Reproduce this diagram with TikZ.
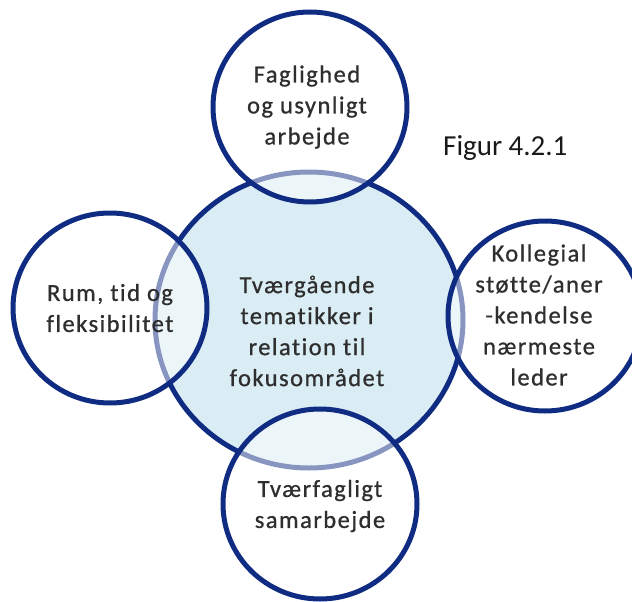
\documentclass[tikz,border=0pt]{standalone}
\usepackage{fontspec}
\setmainfont{Carlito}
\usepackage{tikz}
\usetikzlibrary{positioning,shapes.geometric}
\definecolor{navy}{HTML}{0F2C82}
\definecolor{paleblue}{HTML}{DAEDF4}
\definecolor{inkgray}{HTML}{2E2E2E}

\begin{document}
\begin{tikzpicture}[
        x=1pt, y=-1pt,
        ring/.style={ellipse, draw=navy, line width=5pt, inner sep=0pt, minimum width=194pt, minimum height=190pt},
        hub/.style={ring, fill=paleblue, minimum width=308pt, minimum height=296pt},
        theme/.style={ring, fill=white, fill opacity=0.5},
        caption/.style={align=center, text=inkgray, font=\addfontfeatures{LetterSpace=6,FakeBold=0.8,Ligatures=NoCommon}\fontsize{24.5}{31}\selectfont}
    ]
        \useasboundingbox (0,0) rectangle (632,602);
        \clip (0,0) rectangle (632,602);

        % Centre circle
        \node[hub] (hub) at (309,320) {};
        \node[caption] (hubtxt) at (307,331) {Tværgående\\tematikker i\\relation til\\fokusområdet};

        % Theme circles
        \node[theme] (top) at (310,107) {};
        \node[theme] (left) at (110,308) {};
        \node[theme] (right) at (545,316) {};
        \node[theme] (bottom) at (320,504) {};

        \node[caption] (toptxt) at (307,107) {Faglighed\\og usynligt\\arbejde};
        \node[caption] (lefttxt) at (110,308) {Rum, tid og\\fleksibilitet};
        \node[caption] (righttxt) at (539,315) {Kollegial\\støtte/aner\\-kendelse\\nærmeste\\leder};
        \node[caption] (bottomtxt) at (320,506) {Tværfagligt\\samarbejde};

        % Figure number
        \node[anchor=base west, inner sep=0pt, text=black!90, font=\fontsize{29}{34}\selectfont] (fig) at (443,155) {Figur 4.2.1};
    \end{tikzpicture}
\end{document}
